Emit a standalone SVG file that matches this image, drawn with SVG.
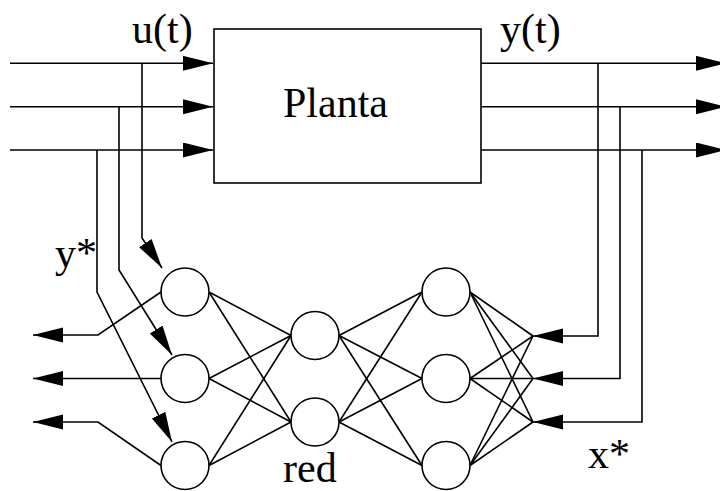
<svg xmlns="http://www.w3.org/2000/svg" width="720" height="491" viewBox="0 0 720 491">
<style>
.ln{fill:none;stroke:#000;stroke-width:1.6;stroke-linejoin:miter}
.nd{fill:#fff;stroke:#000;stroke-width:1.6}
.ar{marker-end:url(#ah)}
</style>
<defs>
<marker id="ah" markerUnits="userSpaceOnUse" markerWidth="31" markerHeight="16" refX="30" refY="7.5" orient="auto" viewBox="0 0 31 16">
<path d="M0,0 L30,7.5 L0,15 z" fill="#000"/>
</marker>
</defs>
<rect width="720" height="491" fill="#fff"/>
<g id="connectors">
<line class="ln ar" x1="10" y1="63.3" x2="213" y2="63.3"/>
<line class="ln ar" x1="10" y1="106.7" x2="213" y2="106.7"/>
<line class="ln ar" x1="10" y1="150" x2="213" y2="150"/>
<line class="ln ar" x1="481" y1="63.3" x2="726" y2="63.3"/>
<line class="ln ar" x1="481" y1="106.7" x2="726" y2="106.7"/>
<line class="ln ar" x1="481" y1="150" x2="726" y2="150"/>
<polyline class="ln ar" points="142,63.3 142,238 162,268"/>
<polyline class="ln ar" points="119,106.7 119,270 172,355"/>
<polyline class="ln ar" points="97,150 97,292 172,442"/>
<polyline class="ln ar" points="161,292 98,335 33,335"/>
<polyline class="ln ar" points="161,378.5 33,378.5"/>
<polyline class="ln ar" points="161,465.5 98,422 33,422"/>
<polyline class="ln ar" points="598,63.3 598,336 533,336"/>
<polyline class="ln ar" points="620,106.7 620,378.5 533,378.5"/>
<polyline class="ln ar" points="642,150 642,422 533,422"/>
<g class="ln">
<line x1="209" y1="292" x2="291" y2="335.5"/>
<line x1="209" y1="292" x2="291" y2="422"/>
<line x1="209" y1="378.5" x2="291" y2="335.5"/>
<line x1="209" y1="378.5" x2="291" y2="422"/>
<line x1="209" y1="465.5" x2="291" y2="335.5"/>
<line x1="209" y1="465.5" x2="291" y2="422"/>
<line x1="339" y1="335.5" x2="422" y2="292"/>
<line x1="339" y1="335.5" x2="422" y2="378.5"/>
<line x1="339" y1="335.5" x2="422" y2="465.5"/>
<line x1="339" y1="422" x2="422" y2="292"/>
<line x1="339" y1="422" x2="422" y2="378.5"/>
<line x1="339" y1="422" x2="422" y2="465.5"/>
<line x1="470" y1="292" x2="533" y2="336"/>
<line x1="470" y1="292" x2="533" y2="378.5"/>
<line x1="470" y1="292" x2="533" y2="422"/>
<line x1="470" y1="378.5" x2="533" y2="336"/>
<line x1="470" y1="378.5" x2="533" y2="378.5"/>
<line x1="470" y1="378.5" x2="533" y2="422"/>
<line x1="470" y1="465.5" x2="533" y2="336"/>
<line x1="470" y1="465.5" x2="533" y2="378.5"/>
<line x1="470" y1="465.5" x2="533" y2="422"/>
</g>
</g>
<g id="planta">
<rect class="nd" x="214" y="29" width="267" height="154"/>
<text x="283" y="117" font-family="'Liberation Serif', 'Times New Roman', 'DejaVu Serif', serif" font-size="42">Planta</text>
</g>
<g id="n-in-1"><circle class="nd" cx="185" cy="292" r="24"/></g>
<g id="n-in-2"><circle class="nd" cx="185" cy="378.5" r="24"/></g>
<g id="n-in-3"><circle class="nd" cx="185" cy="465.5" r="24"/></g>
<g id="n-hid-1"><circle class="nd" cx="315" cy="335.5" r="24"/></g>
<g id="n-hid-2"><circle class="nd" cx="315" cy="422" r="24"/></g>
<g id="n-out-1"><circle class="nd" cx="446" cy="292" r="24"/></g>
<g id="n-out-2"><circle class="nd" cx="446" cy="378.5" r="24"/></g>
<g id="n-out-3"><circle class="nd" cx="446" cy="465.5" r="24"/></g>
<g id="labels" font-family="'Liberation Serif', 'Times New Roman', 'DejaVu Serif', serif" font-size="42">
<text x="132" y="43">u(t)</text>
<text x="500" y="43">y(t)</text>
<text x="55" y="267">y*</text>
<text x="588" y="468">x*</text>
<text x="283" y="482">red</text>
</g>
</svg>
